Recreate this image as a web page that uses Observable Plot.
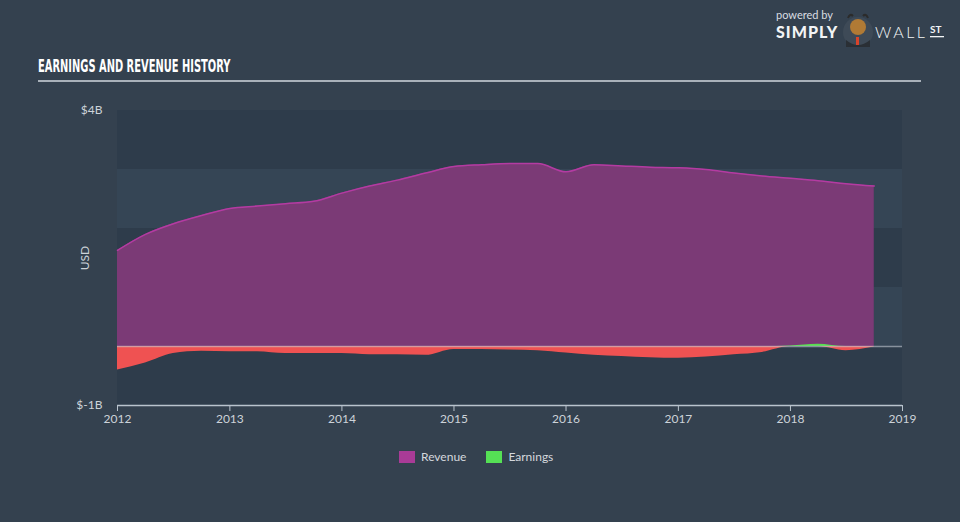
<!DOCTYPE html>
<html>
<head>
<meta charset="utf-8">
<script src="https://cdn.jsdelivr.net/npm/d3@7"></script>
<script src="https://cdn.jsdelivr.net/npm/@observablehq/plot@0.6"></script>
<style>
  html, body { margin: 0; padding: 0; }
  body { width: 960px; height: 522px; background: #34414f; position: relative; overflow: hidden; font-family: Lato, "Open Sans", sans-serif; }
  #title { position: absolute; left: 38px; top: 55px; color: #ffffff; font-family: "DejaVu Sans", sans-serif; font-weight: bold; font-size: 18px; transform: scaleX(0.55); transform-origin: left top; white-space: nowrap; }
  #rule { position: absolute; left: 38px; top: 80px; width: 883px; height: 2px; background: #a9b1ba; }
  #chart { position: absolute; left: 0; top: 100px; }
  #legend { position: absolute; left: 399px; top: 449px; display: flex; align-items: center; color: #d4d8dd; font-size: 12px; }
  .sw { width: 16px; height: 12px; display: inline-block; margin-right: 6px; }
  .item { display: flex; align-items: center; margin-right: 20px; }
  #logo { position: absolute; left: 776px; top: 8px; color: #e9ecef; }
</style>
</head>
<body>
<div id="title">EARNINGS AND REVENUE HISTORY</div>
<div id="rule"></div>
<div id="logo">
  <svg width="180" height="44" style="overflow:visible">
    <text x="0" y="11" font-size="11" fill="#d9dde1" font-family="Lato, sans-serif">powered by</text>
    <text x="0" y="30" font-size="16" font-weight="900" fill="#f2f4f6" font-family="Lato, sans-serif" letter-spacing="1">SIMPLY</text>
    <circle cx="82" cy="24" r="15" fill="#3e4a57"/>
    <path d="M70 32 Q82 42 94 32 L94 39 L70 39 Z" fill="#2a2f35"/>
    <ellipse cx="82" cy="19" rx="8" ry="8" fill="#b07a35"/>
    <path d="M72 10 Q74 5 77 8 M92 10 Q90 5 87 8" stroke="#2b2b2b" stroke-width="2" fill="none"/>
    <rect x="80" y="29" width="3" height="8" fill="#d9432a"/>
    <text x="99" y="30" font-size="16" fill="#f2f4f6" font-family="Lato, sans-serif" font-weight="300" letter-spacing="2.5">WALL</text>
    <text x="154" y="25" font-size="10" font-weight="bold" fill="#f2f4f6" font-family="Lato, sans-serif">ST</text>
    <rect x="154" y="28" width="14" height="1.3" fill="#f2f4f6"/>
  </svg>
</div>
<div id="chart"></div>
<div id="legend">
  <div class="item"><span class="sw" style="background:#a93b97"></span>Revenue</div>
  <div class="item"><span class="sw" style="background:#55e055"></span>Earnings</div>
</div>
<script>
// ---- data (quarterly, USD billions) ----
const quarters = [
  "2012-01-01","2012-04-01","2012-07-01","2012-10-01",
  "2013-01-01","2013-04-01","2013-07-01","2013-10-01",
  "2014-01-01","2014-04-01","2014-07-01","2014-10-01",
  "2015-01-01","2015-04-01","2015-07-01","2015-10-01",
  "2016-01-01","2016-04-01","2016-07-01","2016-10-01",
  "2017-01-01","2017-04-01","2017-07-01","2017-10-01",
  "2018-01-01","2018-04-01","2018-07-01","2018-10-01"
];
const revenue = [
  1.63, 1.90, 2.08, 2.22,
  2.34, 2.38, 2.42, 2.46,
  2.60, 2.72, 2.82, 2.94,
  3.05, 3.08, 3.10, 3.10,
  2.96, 3.08, 3.06, 3.04,
  3.03, 3.00, 2.94, 2.89,
  2.85, 2.81, 2.76, 2.72
];
const earnings = [
  -0.40, -0.28, -0.12, -0.08,
  -0.09, -0.09, -0.12, -0.12,
  -0.12, -0.14, -0.14, -0.15,
  -0.05, -0.05, -0.06, -0.07,
  -0.11, -0.15, -0.17, -0.19,
  -0.20, -0.18, -0.14, -0.10,
  0.01, 0.04, -0.07, -0.01
];
const xTickYears = [2012, 2013, 2014, 2015, 2016, 2017, 2018, 2019];
const yTicks = [-1, 0, 1, 2, 3, 4];
const yLabelTicks = [-1, 4];

const data = quarters.map((q, i) => ({date: new Date(q), revenue: revenue[i], earnings: earnings[i]}));
const bands = yTicks.slice(0, -1).map((lo, i) => ({lo, hi: yTicks[i + 1]}));
const xTicks = xTickYears.map(y => new Date(Date.UTC(y, 0, 1)));

const darkBand = "#2e3c4b", lightBand = "#354555";
const axisColor = "#b9c3cd";

const chart = Plot.plot({
  width: 960,
  height: 335,
  marginLeft: 117,
  marginRight: 58,
  marginTop: 10,
  marginBottom: 30,
  style: {background: "transparent", color: "#cdd3d9", fontFamily: "Lato, 'Open Sans', sans-serif", fontSize: "12px"},
  x: {type: "utc", domain: [xTicks[0], xTicks[xTicks.length - 1]]},
  y: {domain: [yTicks[0], yTicks[yTicks.length - 1]]},
  marks: [
    Plot.rect(bands, {y1: "lo", y2: "hi", fill: (d, i) => (bands.length - 1 - i) % 2 === 0 ? darkBand : lightBand}),
    Plot.areaY(data, {x: "date", y: "revenue", fill: "#7b3a76", curve: "monotone-x"}),
    Plot.lineY(data, {x: "date", y: "revenue", stroke: "#b43ba2", strokeWidth: 1.5, curve: "monotone-x"}),
    Plot.areaY(data, {x: "date", y: d => Math.min(0, d.earnings), fill: "#ef5252", curve: "monotone-x"}),
    Plot.areaY(data, {x: "date", y: d => Math.max(0, d.earnings), fill: "#58dd52", curve: "monotone-x"}),
    Plot.ruleY([0], {stroke: "#c5ccd3", strokeOpacity: 0.6, strokeWidth: 1.5}),
    Plot.ruleY([yTicks[0]], {stroke: axisColor, strokeWidth: 1.5}),
    Plot.axisX({ticks: xTicks, tickFormat: "%Y", tickSize: 6, tickPadding: 3, stroke: axisColor, label: null}),
    Plot.axisY({ticks: yLabelTicks, tickFormat: d => "$" + d + "B", tickSize: 0, tickPadding: 15,
      label: "USD", labelAnchor: "center", labelArrow: "none", labelOffset: 37})
  ]
});
document.getElementById("chart").appendChild(chart);
</script>
</body>
</html>
